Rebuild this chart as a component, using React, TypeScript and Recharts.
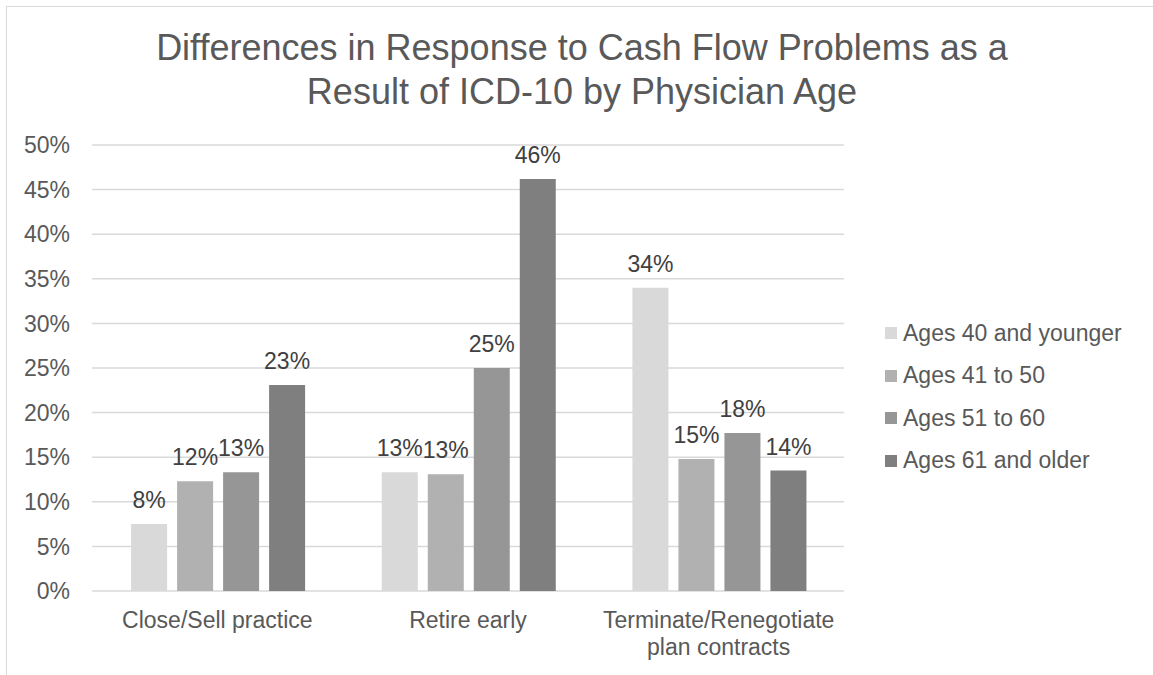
import React from 'react'
import { Bar, BarChart, CartesianGrid, LabelList, XAxis, YAxis } from 'recharts'

const categories = ['Close/Sell practice', 'Retire early', 'Terminate/Renegotiate plan contracts']
// how each category label wraps under the axis
const categoryLines = [['Close/Sell practice'], ['Retire early'], ['Terminate/Renegotiate', 'plan contracts']]
const seriesNames = ['Ages 40 and younger', 'Ages 41 to 50', 'Ages 51 to 60', 'Ages 61 and older']
const ages40AndYounger = [7.5, 13.3, 34.0]
const ages41To50 = [12.3, 13.1, 14.8]
const ages51To60 = [13.3, 25.0, 17.7]
const ages61AndOlder = [23.1, 46.2, 13.5]
const yTicks = [0, 5, 10, 15, 20, 25, 30, 35, 40, 45, 50]

const seriesKeys = ['a40', 'a41', 'a51', 'a61']
const seriesColors = ['#D9D9D9', '#B1B1B1', '#969696', '#7F7F7F']

const data = categories.map((category, i) => ({
    category,
    a40: ages40AndYounger[i],
    a41: ages41To50[i],
    a51: ages51To60[i],
    a61: ages61AndOlder[i]
}))

const FONT = '"Liberation Sans", Arial, sans-serif'
const AXIS_COLOR = '#595959'

function CategoryTick({ x, y, payload }: any) {
    const idx = categories.indexOf(payload.value)
    const lines = idx >= 0 ? categoryLines[idx] : [String(payload.value)]
    return (
        <text x={x} y={y} textAnchor='middle' fill={AXIS_COLOR} fontSize={23} fontFamily={FONT}>
            {lines.map((line, i) => (
                <tspan key={line} x={x} dy={i === 0 ? 16.5 : 27}>
                    {line}
                </tspan>
            ))}
        </text>
    )
}

function ChartLegend() {
    return (
        <div style={{ position: 'absolute', left: 885, top: 312, fontFamily: FONT, fontSize: 23, color: AXIS_COLOR }}>
            {seriesNames.map((name, i) => (
                <div key={name} style={{ height: 42.5, display: 'flex', alignItems: 'center' }}>
                    <span style={{ width: 12, height: 12, background: seriesColors[i], marginRight: 6, flex: 'none' }} />
                    <span style={{ whiteSpace: 'nowrap' }}>{name}</span>
                </div>
            ))}
        </div>
    )
}

export default function App() {
    return (
        <div style={{ position: 'fixed', left: 0, top: 0, width: 1153, height: 675, background: '#fff', overflow: 'hidden' }}>
            <div
                style={{
                    position: 'absolute',
                    left: 6,
                    top: 6,
                    width: 1300,
                    height: 800,
                    border: '1.5px solid #D9D9D9'
                }}
            />
            <div
                style={{
                    position: 'absolute',
                    left: 0,
                    top: 26,
                    width: 1164,
                    textAlign: 'center',
                    fontFamily: FONT,
                    fontSize: 36,
                    lineHeight: '44px',
                    color: AXIS_COLOR
                }}
            >
                Differences in Response to Cash Flow Problems as a
                <br />
                Result of ICD-10 by Physician Age
            </div>
            <div style={{ position: 'absolute', left: 0, top: 0 }}>
                <BarChart
                    width={1153}
                    height={675}
                    data={data}
                    margin={{ top: 145, right: 309, bottom: 0, left: 0 }}
                    barCategoryGap='15.6%'
                    barGap={10}
                >
                    <CartesianGrid vertical={false} stroke='#D9D9D9' strokeWidth={1.5} />
                    <XAxis
                        dataKey='category'
                        height={84}
                        axisLine={false}
                        tickLine={false}
                        tickSize={0}
                        tickMargin={20}
                        interval={0}
                        tick={<CategoryTick />}
                    />
                    <YAxis
                        width={92}
                        domain={[0, 50]}
                        ticks={yTicks}
                        interval={0}
                        axisLine={false}
                        tickLine={false}
                        tickSize={0}
                        tickMargin={22}
                        tickFormatter={(v: number) => `${v}%`}
                        tick={{ fill: AXIS_COLOR, fontSize: 23, fontFamily: FONT }}
                    />
                    {seriesKeys.map((key, i) => (
                        <Bar key={key} dataKey={key} name={seriesNames[i]} fill={seriesColors[i]} isAnimationActive={false}>
                            <LabelList
                                dataKey={key}
                                position='top'
                                offset={16}
                                formatter={(v: any) => `${Math.round(Number(v))}%`}
                                fill='#404040'
                                fontSize={23}
                                fontFamily={FONT}
                            />
                        </Bar>
                    ))}
                </BarChart>
            </div>
            <ChartLegend />
        </div>
    )
}
